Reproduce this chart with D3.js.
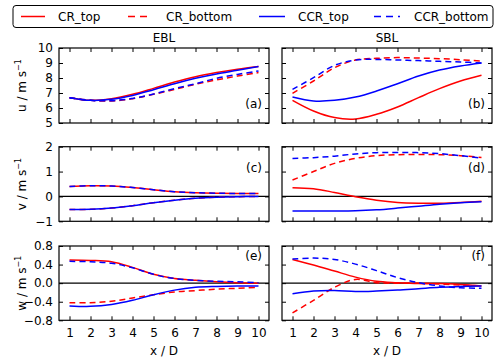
<!DOCTYPE html>
<html><head><meta charset="utf-8">
<script src="https://cdn.jsdelivr.net/npm/d3@7"></script>
<style>body{margin:0;background:#fff}svg{display:block;font-family:"DejaVu Sans",sans-serif}</style>
</head><body><svg id="c" width="500" height="360"></svg>
<script>
const xs = [1,2,3,4,5,6,7,8,9,10];
const seriesNames = ["CR_top","CR_bottom","CCR_top","CCR_bottom"];
const columnTitles = ["EBL","SBL"];
const rowLabels = ["u / m s","v / m s","w / m s"];
const panelLetters = ["(a)","(b)","(c)","(d)","(e)","(f)"];
const uTicks = [5,6,7,8,9,10];
const vTicks = [-1,0,1,2];
const wTicks = [-0.8,-0.4,0,0.4,0.8];

// EBL u
const eblU_CRtop     = [6.69,6.51,6.62,6.91,7.31,7.73,8.09,8.36,8.58,8.76];
const eblU_CRbottom  = [6.69,6.51,6.47,6.62,6.91,7.24,7.58,7.87,8.13,8.36];
const eblU_CCRtop    = [6.69,6.51,6.58,6.84,7.22,7.62,7.98,8.27,8.51,8.76];
const eblU_CCRbottom = [6.69,6.51,6.49,6.64,6.93,7.29,7.62,7.98,8.24,8.47];
// SBL u
const sblU_CRtop     = [6.51,5.80,5.36,5.27,5.58,6.07,6.69,7.29,7.80,8.18];
const sblU_CRbottom  = [6.98,7.80,8.69,9.20,9.31,9.36,9.33,9.29,9.22,9.13];
const sblU_CCRtop    = [6.73,6.47,6.51,6.73,7.13,7.62,8.13,8.53,8.80,9.00];
const sblU_CCRbottom = [7.24,8.02,8.84,9.20,9.24,9.20,9.16,9.11,9.07,9.00];
// EBL v
const eblV_CRtop     = [0.40,0.43,0.42,0.36,0.27,0.19,0.15,0.13,0.12,0.12];
const eblV_CRbottom  = [-0.53,-0.52,-0.47,-0.37,-0.25,-0.15,-0.07,-0.03,-0.01,0.00];
const eblV_CCRtop    = [-0.53,-0.52,-0.47,-0.37,-0.25,-0.15,-0.07,-0.03,-0.01,0.00];
const eblV_CCRbottom = [0.40,0.43,0.42,0.36,0.27,0.19,0.15,0.13,0.12,0.12];
// SBL v
const sblV_CRtop     = [0.35,0.31,0.16,-0.01,-0.15,-0.24,-0.27,-0.27,-0.24,-0.19];
const sblV_CRbottom  = [0.66,1.00,1.33,1.53,1.64,1.68,1.69,1.68,1.64,1.57];
const sblV_CCRtop    = [-0.59,-0.59,-0.59,-0.58,-0.54,-0.47,-0.39,-0.31,-0.25,-0.21];
const sblV_CCRbottom = [1.53,1.56,1.62,1.71,1.76,1.77,1.76,1.72,1.64,1.54];
// EBL w
const eblW_CRtop     = [0.50,0.49,0.46,0.34,0.19,0.10,0.06,0.03,0.01,0.00];
const eblW_CRbottom  = [-0.42,-0.42,-0.39,-0.32,-0.25,-0.19,-0.16,-0.13,-0.11,-0.09];
const eblW_CCRtop    = [-0.49,-0.50,-0.46,-0.37,-0.25,-0.15,-0.09,-0.07,-0.06,-0.06];
const eblW_CCRbottom = [0.47,0.46,0.43,0.33,0.19,0.10,0.06,0.04,0.03,0.01];
// SBL w
const sblW_CRtop     = [0.51,0.39,0.26,0.13,0.04,0.01,-0.01,-0.01,-0.03,-0.06];
const sblW_CRbottom  = [-0.64,-0.37,-0.09,0.08,0.01,0.00,0.00,-0.02,-0.04,-0.06];
const sblW_CCRtop    = [-0.23,-0.17,-0.16,-0.18,-0.17,-0.15,-0.12,-0.09,-0.07,-0.06];
const sblW_CCRbottom = [0.52,0.54,0.51,0.41,0.27,0.12,0.01,-0.06,-0.10,-0.11];

const colors = {CR_top:"#ff0000",CR_bottom:"#ff0000",CCR_top:"#0000ff",CCR_bottom:"#0000ff"};
const dashes = {CR_top:null,CR_bottom:"6,4",CCR_top:null,CCR_bottom:"6,4"};

const panels = [
  {col:0,row:0,s:[eblU_CRtop,eblU_CRbottom,eblU_CCRtop,eblU_CCRbottom]},
  {col:1,row:0,s:[sblU_CRtop,sblU_CRbottom,sblU_CCRtop,sblU_CCRbottom]},
  {col:0,row:1,s:[eblV_CRtop,eblV_CRbottom,eblV_CCRtop,eblV_CCRbottom]},
  {col:1,row:1,s:[sblV_CRtop,sblV_CRbottom,sblV_CCRtop,sblV_CCRbottom]},
  {col:0,row:2,s:[eblW_CRtop,eblW_CRbottom,eblW_CCRtop,eblW_CCRbottom]},
  {col:1,row:2,s:[sblW_CRtop,sblW_CRbottom,sblW_CCRtop,sblW_CCRbottom]},
];
const colX = [[59,269],[282,492]];
const rowY = [[123,48],[221.3,146.7],[320.3,246]];
const rowDomains = [[5,10],[-1,2],[-0.8,0.8]];
const rowTicks = [uTicks,vTicks,wTicks];
const rowFmt = [d3.format("d"),d3.format("d"),d3.format(".1f")];
const letterDy = [-14,25,14];

const svg = d3.select("#c");

panels.forEach((p,i)=>{
  const x = d3.scaleLinear().domain([0.5,10.5]).range(colX[p.col]);
  const y = d3.scaleLinear().domain(rowDomains[p.row]).range(rowY[p.row]);
  const g = svg.append("g");
  const [x0,x1] = colX[p.col], [y0,y1] = rowY[p.row];
  if (p.row>0) g.append("line").attr("x1",x0).attr("x2",x1).attr("y1",y(0)).attr("y2",y(0)).attr("stroke","#000").attr("stroke-width",1.2);
  const line = d3.line().x((d,j)=>x(xs[j])).y(d=>y(d)).curve(d3.curveCatmullRom);
  p.s.forEach((arr,k)=>{
    const n = seriesNames[k];
    g.append("path").attr("d",line(arr)).attr("fill","none").attr("stroke",colors[n])
      .attr("stroke-width",1.5).attr("stroke-dasharray",dashes[n]);
  });
  const ax = (gen,tr)=>{const a=g.append("g").attr("transform",tr).call(gen); a.select(".domain").remove(); a.selectAll("line").attr("stroke","#000"); a.selectAll("text").attr("font-size",12).attr("fill","#000").attr("font-family","DejaVu Sans"); return a;};
  ax(d3.axisBottom(x).tickValues(xs).tickSize(-4).tickPadding(8).tickFormat(p.row===2?d3.format("d"):""),`translate(0,${y0})`);
  ax(d3.axisTop(x).tickValues(xs).tickSize(-4).tickFormat(""),`translate(0,${y1})`);
  ax(d3.axisLeft(y).tickValues(rowTicks[p.row]).tickSize(-4).tickPadding(6).tickFormat(p.col===0?rowFmt[p.row]:""),`translate(${x0},0)`);
  ax(d3.axisRight(y).tickValues(rowTicks[p.row]).tickSize(-4).tickFormat(""),`translate(${x1},0)`);
  g.append("rect").attr("x",x0).attr("y",y1).attr("width",x1-x0).attr("height",y0-y1).attr("fill","none").attr("stroke","#000").attr("stroke-width",1.2);
  const ly = p.row===0 ? y0-15 : y1+letterDy[p.row];
  g.append("text").attr("x",x1-7).attr("y",ly).attr("text-anchor","end").attr("font-size",12).text(panelLetters[i]);
  if (p.row===0) svg.append("text").attr("x",(x0+x1)/2).attr("y",42).attr("text-anchor","middle").attr("font-size",12).text(columnTitles[p.col]);
  if (p.row===2) svg.append("text").attr("x",x(5.5)).attr("y",355).attr("text-anchor","middle").attr("font-size",12).text("x / D");
  if (p.col===0) {
    const t = svg.append("text").attr("transform",`translate(26,${(y0+y1)/2}) rotate(-90)`).attr("text-anchor","middle").attr("font-size",12);
    t.append("tspan").text(rowLabels[p.row]);
    t.append("tspan").attr("font-size",8).attr("dy",-5).text("−1");
  }
});

const lg = svg.append("g");
lg.append("rect").attr("x",13).attr("y",5.5).attr("width",480).attr("height",22).attr("rx",3).attr("fill","#fff").attr("stroke","#000").attr("stroke-width",1);
const legX = [[21,45,58],[128,152,166],[259,285,298],[374,400,414]];
seriesNames.forEach((n,k)=>{
  lg.append("line").attr("x1",legX[k][0]).attr("x2",legX[k][1]).attr("y1",16.5).attr("y2",16.5).attr("stroke",colors[n]).attr("stroke-width",1.5).attr("stroke-dasharray",dashes[n]?"7,5":null);
  lg.append("text").attr("x",legX[k][2]).attr("y",21).attr("font-size",12).text(n);
});
</script></body></html>
